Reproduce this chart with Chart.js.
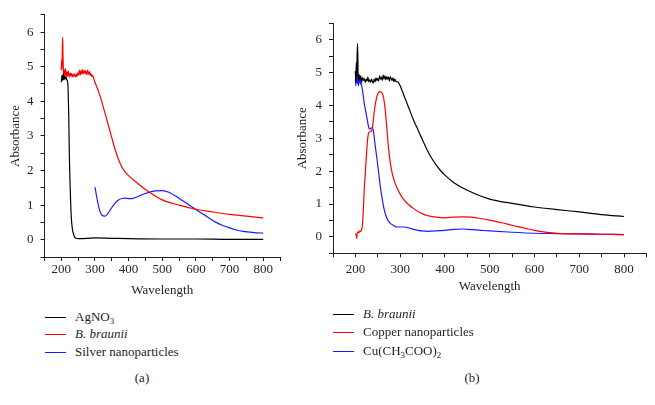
<!DOCTYPE html>
<html>
<head>
<meta charset="utf-8">
<script src="https://cdn.jsdelivr.net/npm/chart.js@4/dist/chart.umd.min.js"></script>
<style>
  body { margin: 0; background: #fff; width: 655px; height: 405px; position: relative; overflow: hidden;
         font-family: "Liberation Serif", "DejaVu Serif", serif; color: #231f20; }
  .wrap { position: absolute; top: 0; }
  #wrapA { left: 0; width: 320px; height: 300px; }
  #wrapB { left: 290px; width: 365px; height: 300px; }
  .row { position: absolute; height: 18px; line-height: 18px; font-size: 13px; white-space: nowrap; }
  .row .swatch { position: absolute; left: 0; top: 9px; width: 21px; height: 1px; }
  .row .label { position: absolute; left: 30px; top: 0; }
  sub { font-size: 9px; line-height: 0; vertical-align: -3px; }
  .caption { position: absolute; font-size: 13px; transform: translateX(-50%); }
</style>
</head>
<body>
<div class="wrap" id="wrapA"><canvas id="chartA" width="320" height="300"></canvas></div>
<div class="wrap" id="wrapB"><canvas id="chartB" width="365" height="300"></canvas></div>

<div class="row" style="left:45px; top:308px;"><div class="swatch" style="background:#000000;"></div><span class="label">AgNO<sub>3</sub></span></div>
<div class="row" style="left:45px; top:325px;"><div class="swatch" style="background:#ff0000;"></div><span class="label"><i>B. braunii</i></span></div>
<div class="row" style="left:45px; top:343px;"><div class="swatch" style="background:#1c1cff;"></div><span class="label">Silver nanoparticles</span></div>
<div class="caption" style="left:142px; top:370px;">(a)</div>

<div class="row" style="left:333px; top:305px;"><div class="swatch" style="background:#000000;"></div><span class="label"><i>B. braunii</i></span></div>
<div class="row" style="left:333px; top:323px;"><div class="swatch" style="background:#ff0000;"></div><span class="label">Copper nanoparticles</span></div>
<div class="row" style="left:333px; top:342px;"><div class="swatch" style="background:#1c1cff;"></div><span class="label">Cu(CH<sub>3</sub>COO)<sub>2</sub></span></div>
<div class="caption" style="left:472px; top:370px;">(b)</div>

<script>
// ---- panel (a) data ----
const agno3Wl = [200, 202, 204, 206, 208, 210, 212, 214, 216, 218, 220, 222, 224, 226, 228, 230, 232, 234, 236, 238, 240, 245, 250, 260, 280, 300, 350, 400, 500, 600, 700, 800];
const agno3Abs = [4.55, 4.75, 4.6, 4.8, 4.62, 4.72, 4.65, 4.7, 4.62, 4.6, 4.4, 3.6, 2.4, 1.6, 1.0, 0.6, 0.38, 0.25, 0.17, 0.11, 0.07, 0.04, 0.03, 0.03, 0.04, 0.05, 0.04, 0.03, 0.02, 0.02, 0.01, 0.01];

const braunAWl = [200, 201, 202, 203, 204, 205, 206, 207, 208, 210, 212, 214, 216, 218, 220, 222, 224, 226, 228, 230, 232, 234, 236, 238, 240, 242, 244, 246, 248, 250, 252, 254, 256, 258, 260, 262, 264, 266, 268, 270, 272, 274, 276, 278, 280, 282, 284, 286, 288, 290, 292, 295,
  300, 310, 320, 330, 340, 350, 360, 370, 380, 390, 400, 420, 450, 500, 550, 600, 650, 700, 750, 800];
const braunAAbs = [4.9, 5.2, 4.95, 5.5, 5.85, 5.3, 4.95, 4.7, 4.9, 4.75, 4.95, 4.7, 4.85, 4.72, 4.88, 4.78, 4.7, 4.82, 4.75, 4.8, 4.7, 4.78, 4.72, 4.8, 4.74, 4.7, 4.78, 4.72, 4.82, 4.75, 4.8, 4.9, 4.75, 4.88, 4.8, 4.92, 4.78, 4.88, 4.82, 4.9, 4.8, 4.86, 4.76, 4.9, 4.82, 4.78, 4.86, 4.75, 4.8, 4.72, 4.76, 4.7,
  4.55, 4.3, 4.0, 3.65, 3.3, 2.95, 2.6, 2.32, 2.1, 1.95, 1.85, 1.68, 1.45, 1.15, 1.0, 0.88, 0.8, 0.73, 0.68, 0.63];

const silverWl = [300, 305, 310, 315, 320, 330, 340, 350, 360, 370, 380, 390, 400, 410, 420, 440, 460, 480, 500, 520, 540, 560, 580, 600, 620, 640, 660, 680, 700, 720, 740, 760, 780, 800];
const silverAbs = [1.52, 1.25, 1.0, 0.82, 0.72, 0.68, 0.78, 0.93, 1.06, 1.15, 1.19, 1.2, 1.19, 1.19, 1.22, 1.3, 1.37, 1.41, 1.42, 1.37, 1.26, 1.13, 1.0, 0.87, 0.75, 0.62, 0.5, 0.41, 0.34, 0.28, 0.24, 0.22, 0.2, 0.19];

// ---- panel (b) data ----
const braunBWl = [200, 201, 202, 203, 204, 205, 206, 207, 208, 210, 212, 214, 216, 218, 220, 222, 224, 226, 228, 230, 232, 234, 236, 238, 240, 242, 244, 246, 248, 250, 252, 254, 256, 258, 260, 262, 264, 266, 268, 270, 272, 274, 276, 278, 280, 282, 284, 286, 288, 290, 292, 295,
  300, 310, 320, 330, 340, 350, 360, 370, 380, 390, 400, 420, 450, 500, 550, 600, 650, 700, 750, 800];
const braunBAbs = [5.05, 4.7, 5.3, 4.9, 5.6, 5.88, 5.0, 4.75, 4.95, 4.78, 4.9, 4.72, 4.85, 4.76, 4.82, 4.7, 4.8, 4.74, 4.86, 4.72, 4.78, 4.7, 4.8, 4.74, 4.68, 4.8, 4.72, 4.84, 4.76, 4.82, 4.74, 4.9, 4.8, 4.86, 4.76, 4.92, 4.8, 4.9, 4.78, 4.88, 4.8, 4.86, 4.74, 4.88, 4.82, 4.76, 4.84, 4.72, 4.8, 4.74, 4.72, 4.71,
  4.6, 4.25, 3.9, 3.55, 3.25, 2.95, 2.65, 2.4, 2.2, 2.02, 1.88, 1.65, 1.42, 1.15, 1.02, 0.91, 0.83, 0.76, 0.68, 0.62];

const copperWl = [200, 202, 203, 204, 206, 208, 210, 212, 214, 216, 218, 220, 222, 224, 226, 228, 230, 232, 234, 236, 238, 240, 243, 246, 250, 254, 258, 262, 266, 270, 274, 278, 282, 289, 300, 310, 320, 330, 340, 350, 360, 380, 400, 420, 440, 460, 480, 500, 520, 540, 560, 580, 600, 620, 640, 660, 700, 750, 800];
const copperAbs = [0.1, 0.05, -0.05, 0.1, 0.15, 0.12, 0.18, 0.17, 0.22, 0.4, 0.9, 1.5, 1.9, 2.35, 2.75, 3.05, 3.18, 3.2, 3.2, 3.22, 3.3, 3.55, 3.9, 4.15, 4.35, 4.42, 4.4, 4.3, 3.95, 3.35, 2.7, 2.25, 1.95, 1.62, 1.3, 1.1, 0.97, 0.86, 0.77, 0.7, 0.65, 0.6, 0.58, 0.6, 0.61, 0.6, 0.56, 0.51, 0.45, 0.39, 0.32, 0.26, 0.2, 0.15, 0.12, 0.1, 0.09, 0.08, 0.07];

const acetateWl = [200, 201, 202, 203, 204, 205, 206, 207, 208, 209, 210, 211, 212, 214, 216, 218, 220, 222, 224, 226, 228, 230, 232, 234, 236, 238, 240, 244, 248, 252, 256, 260, 264, 268, 272, 278, 285, 293, 300, 310, 320, 330, 340, 350, 360, 380, 400, 420, 440, 460, 480, 500, 550, 600, 650, 700, 750, 800];
const acetateAbs = [4.8, 4.6, 4.95, 4.7, 5.0, 4.65, 4.9, 4.6, 4.85, 4.7, 4.9, 4.65, 4.75, 4.6, 4.45, 4.25, 4.05, 3.9, 3.75, 3.6, 3.45, 3.32, 3.28, 3.3, 3.32, 3.3, 3.25, 2.8, 2.4, 1.95, 1.5, 1.15, 0.85, 0.65, 0.52, 0.41, 0.35, 0.3, 0.3, 0.3, 0.27, 0.23, 0.2, 0.18, 0.17, 0.18, 0.2, 0.23, 0.24, 0.22, 0.2, 0.18, 0.14, 0.11, 0.1, 0.09, 0.08, 0.07];

// axis ticks
const xMin = 150, xMax = 850, xLabelMin = 200, xLabelMax = 800;
const yMin = -0.5, yMax = 6.5;

const INK = '#231f20';
const FONT = { family: '"Liberation Serif", "DejaVu Serif", serif', size: 13 };

const toPoints = (wl, abs) => wl.map((x, i) => ({ x: x, y: abs[i] }));

function line(data, color) {
  return { data: data, borderColor: color, borderWidth: 1.2, pointRadius: 0, fill: false, cubicInterpolationMode: 'monotone' };
}

// box holds the pixel layout of each panel so both plots line up with the figure
function buildChart(id, datasets, box) {
  return new Chart(document.getElementById(id), {
    type: 'line',
    data: { datasets: datasets },
    options: {
      responsive: false,
      animation: false,
      layout: { padding: { left: 0, right: box.right, top: box.top, bottom: 0 } },
      plugins: { legend: { display: false }, tooltip: { enabled: false } },
      scales: {
        x: {
          type: 'linear', position: 'bottom', min: xMin, max: xMax,
          grid: { drawOnChartArea: false, tickLength: 4, color: INK },
          border: { color: INK, width: 1 },
          ticks: {
            stepSize: 50, autoSkip: false, maxRotation: 0, padding: box.xTickPad, color: INK, font: FONT,
            callback: v => (v % 100 === 0 && v >= xLabelMin && v <= xLabelMax) ? v : ''
          },
          title: { display: true, text: 'Wavelength', color: INK, font: FONT, padding: { top: 0, bottom: box.xTitlePad } },
          afterFit: s => { s.height = box.xHeight; }
        },
        y: {
          min: yMin, max: yMax,
          grid: { drawOnChartArea: false, tickLength: 4, color: INK },
          border: { color: INK, width: 1 },
          ticks: {
            stepSize: 0.5, autoSkip: false, padding: box.yTickPad, color: INK, font: FONT,
            callback: v => (Number.isInteger(v) && v >= 0) ? v : ''
          },
          title: { display: true, text: 'Absorbance', color: INK, font: FONT, padding: { top: box.yTitlePad, bottom: 0 } },
          afterFit: s => { s.width = box.yWidth; }
        }
      }
    }
  });
}

buildChart('chartA', [
  line(toPoints(agno3Wl, agno3Abs), '#000000'),
  line(toPoints(braunAWl, braunAAbs), '#ff0000'),
  line(toPoints(silverWl, silverAbs), '#1c1cff')
], { right: 40, top: 8, xHeight: 43, yWidth: 44.5, xTickPad: 1, xTitlePad: 1.2, yTickPad: 7, yTitlePad: 7.9 });

buildChart('chartB', [
  line(toPoints(braunBWl, braunBAbs), '#000000'),
  line(toPoints(copperWl, copperAbs), '#ff0000'),
  line(toPoints(acetateWl, acetateAbs), '#1c1cff')
], { right: 8.6, top: 23.3, xHeight: 46.7, yWidth: 43, xTickPad: 4, xTitlePad: 5.2, yTickPad: 7, yTitlePad: 5.2 });
</script>
</body>
</html>
